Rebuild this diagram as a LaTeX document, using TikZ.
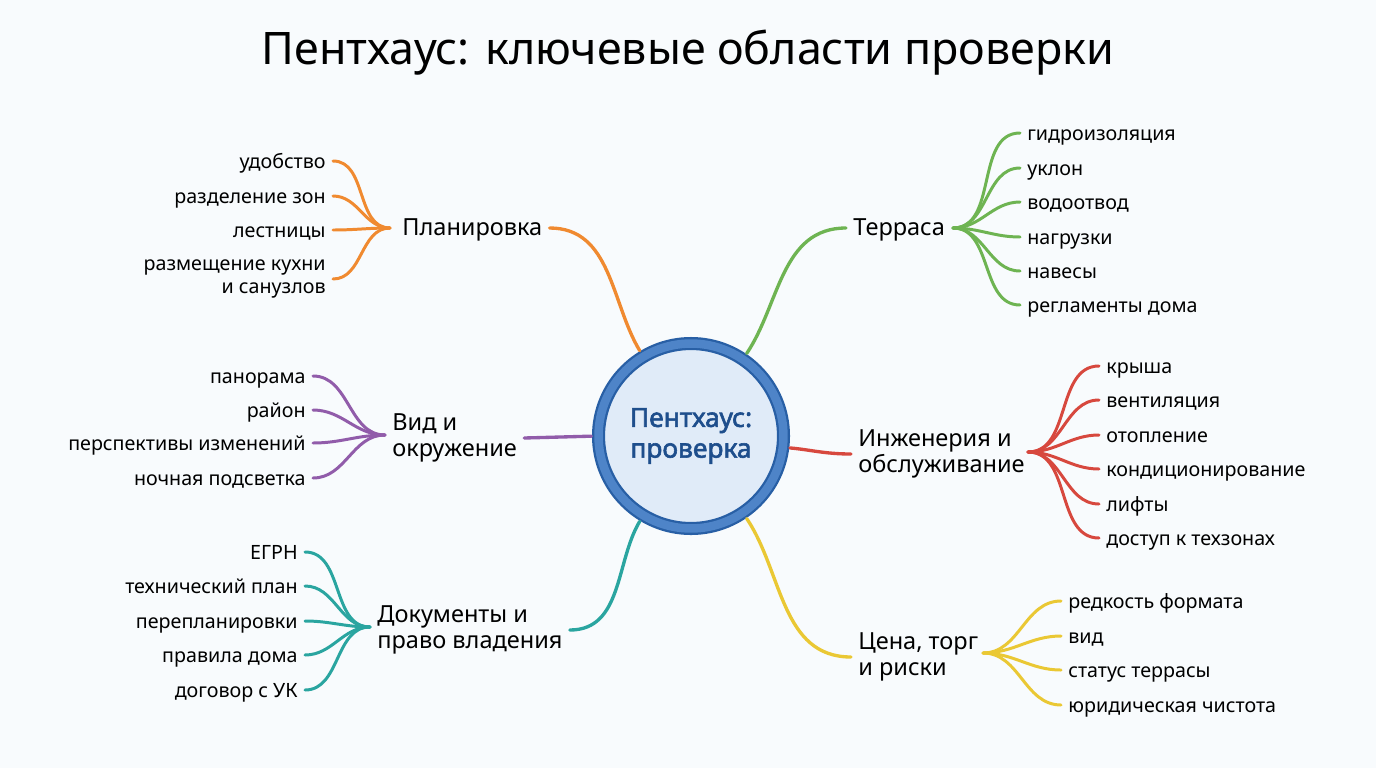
\documentclass[tikz,border=0pt]{standalone}
\usepackage{fontspec}
\setmainfont{Noto Sans}[AutoFakeBold=2.2]
\usetikzlibrary{positioning}
\definecolor{bgcol}{RGB}{248,251,253}
\definecolor{hubEdge}{RGB}{40,95,165}
\definecolor{hubRing}{RGB}{78,132,200}
\definecolor{hubFill}{RGB}{224,235,248}
\definecolor{hubText}{RGB}{30,78,140}
\definecolor{cPlan}{RGB}{240,138,48}
\definecolor{cTer}{RGB}{110,180,82}
\definecolor{cView}{RGB}{145,92,170}
\definecolor{cEng}{RGB}{215,72,62}
\definecolor{cDoc}{RGB}{42,165,160}
\definecolor{cPrice}{RGB}{234,200,52}
\tikzset{
  leafln/.style={line width=1.7pt, line cap=round},
  mainln/.style={line width=1.9pt, line cap=round},
  oneline/.style={text height=1.5ex, text depth=0pt},
  leaftxt/.style={font=\fontsize{11.2}{13}\selectfont, inner xsep=0.14cm, inner ysep=0pt},
  branchtxt/.style={font=\fontsize{13.4}{14.8}\selectfont, align=left, inner xsep=0.14cm,
    inner ysep=0pt},
}

\begin{document}
\begin{tikzpicture}[x=0.02cm, y=-0.02cm]
    \fill[bgcol] (0,0) rectangle (1376,768);
    \useasboundingbox (0,0) rectangle (1376,768);
    % title
    \node[font=\fontsize{25.5}{28}\selectfont] (title) at (688,53) {Пентхаус: ключевые области проверки};
    % central hub
    \node[circle, minimum size=3.7cm, inner sep=0pt, fill=hubFill, draw=hubEdge,
      line width=1.3pt, double=hubRing, double distance=0.17cm,
      font=\fontsize{15}{17.5}\selectfont\bfseries, text=hubText, align=center]
      (hub) at (691,436) {Пентхаус:\\проверка};
    % branch labels
    \node[branchtxt, oneline, anchor=west] (plan) at (395,228) {Планировка};
    \node[branchtxt, oneline, anchor=west] (ter) at (846,228) {Терраса};
    \node[branchtxt, anchor=west] (view) at (385,438) {Вид и\\окружение};
    \node[branchtxt, anchor=west] (eng) at (851,454) {Инженерия и\\обслуживание};
    \node[branchtxt, anchor=west] (docs) at (370,630) {Документы и\\право владения};
    \node[branchtxt, anchor=west] (price) at (851,657) {Цена, торг\\и риски};
    \coordinate (planj) at (390,228);
    \coordinate (terj) at (953,228);
    \coordinate (viewj) at (385,435);
    \coordinate (engj) at (1028,452);
    \coordinate (docsj) at (370,627);
    \coordinate (pricej) at (983,653);
    % main connectors
    \draw[mainln, cPlan, shorten >=0.12cm] (plan.east) to[out=0,in=121] (hub.121);
    \draw[mainln, cTer, shorten <=0.12cm] (hub.56) to[out=56,in=180] (ter.west);
    \draw[mainln, cView, shorten >=0.12cm] (view.east) -- (hub.180);
    \draw[mainln, cEng, shorten <=0.12cm] (hub.-7) to[out=-5,in=180] (eng.west);
    \draw[mainln, cDoc, shorten >=0.12cm] (docs.east) to[out=0,in=239] (hub.239);
    \draw[mainln, cPrice, shorten <=0.12cm] (hub.-56) to[out=-56,in=180] (price.west);
    % leaves: planning
    \foreach \y/\t [count=\i] in {161/удобство, 196/разделение зон, 230/лестницы} {
      \node[leaftxt, oneline, anchor=east] (pl\i) at (333,\y) {\t};
      \draw[leafln, cPlan] (pl\i.east) to[out=0,in=180] (planj);
    }
    \node[leaftxt, anchor=east, align=right] (pl4) at (333,279) {размещение кухни\\и санузлов};
    \draw[leafln, cPlan] (pl4.east) to[out=0,in=180] (planj);
    % leaves: terrace
    \foreach \y/\t [count=\i] in {133/гидроизоляция, 168/уклон, 202/водоотвод, 237/нагрузки, 271/навесы, 305/регламенты дома} {
      \node[leaftxt, oneline, anchor=west] (te\i) at (1020,\y) {\t};
      \draw[leafln, cTer] (terj) to[out=0,in=180] (te\i.west);
    }
    % leaves: view
    \foreach \y/\t [count=\i] in {376/панорама, 410/район, 443/перспективы изменений, 478/ночная подсветка} {
      \node[leaftxt, oneline, anchor=east] (vi\i) at (313,\y) {\t};
      \draw[leafln, cView] (vi\i.east) to[out=0,in=180] (viewj);
    }
    % leaves: engineering
    \foreach \y/\t [count=\i] in {366/крыша, 400/вентиляция, 435/отопление, 469/кондиционирование, 504/лифты, 538/доступ к техзонах} {
      \node[leaftxt, oneline, anchor=west] (en\i) at (1099,\y) {\t};
      \draw[leafln, cEng] (engj) to[out=0,in=180] (en\i.west);
    }
    % leaves: documents
    \foreach \y/\t [count=\i] in {552/ЕГРН, 586/технический план, 621/перепланировки, 655/правила дома, 690/договор с УК} {
      \node[leaftxt, oneline, anchor=east] (do\i) at (305,\y) {\t};
      \draw[leafln, cDoc] (do\i.east) to[out=0,in=180] (docsj);
    }
    % leaves: price
    \foreach \y/\t [count=\i] in {601/редкость формата, 636/вид, 670/статус террасы, 705/юридическая чистота} {
      \node[leaftxt, oneline, anchor=west] (pr\i) at (1061,\y) {\t};
      \draw[leafln, cPrice] (pricej) to[out=0,in=180] (pr\i.west);
    }
\end{tikzpicture}
\end{document}
